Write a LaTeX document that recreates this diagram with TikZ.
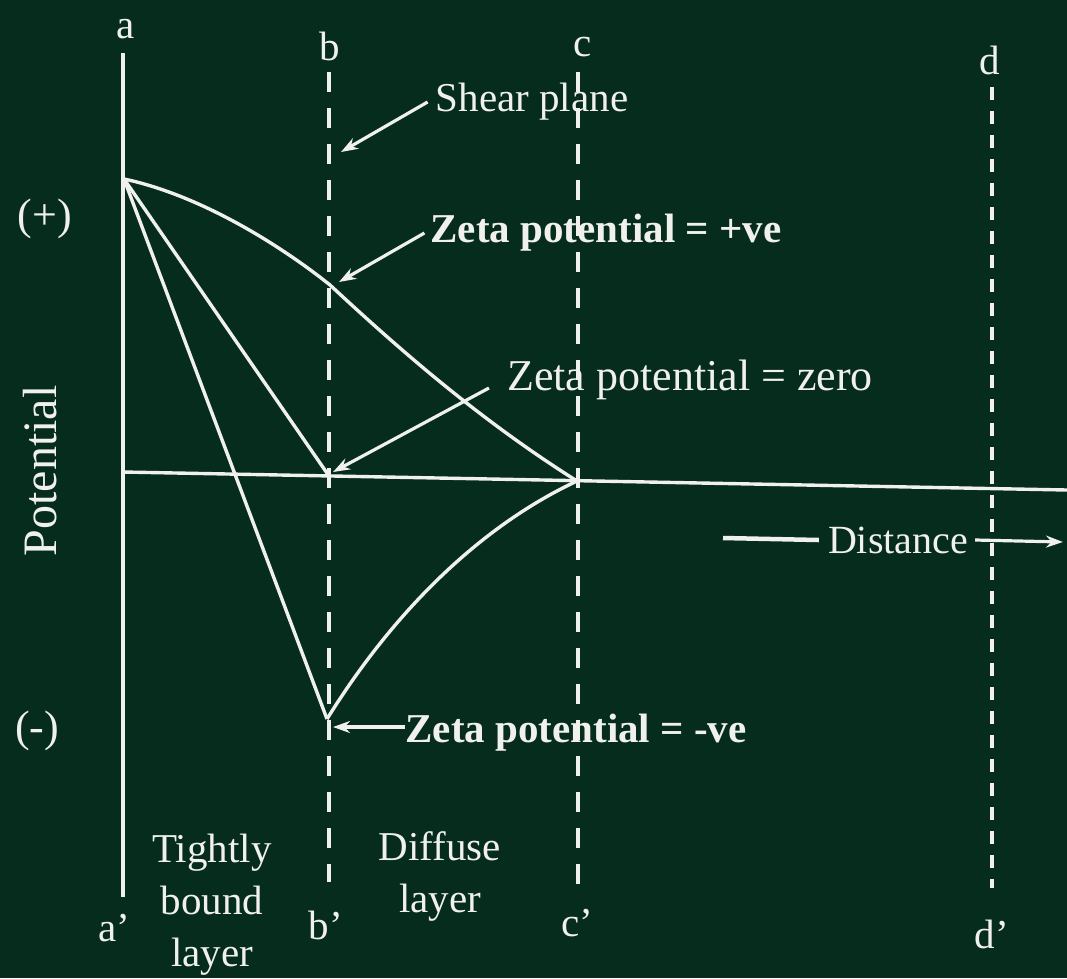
\documentclass[tikz,border=0pt]{standalone}
\usepackage{fontspec}
\setmainfont{Liberation Serif}
\usetikzlibrary{arrows.meta}
\definecolor{bg}{RGB}{6,44,30}
\definecolor{ink}{RGB}{240,240,236}
\begin{document}
\begin{tikzpicture}[x=1pt,y=-1pt,
  every node/.style={text=ink,inner sep=0pt},
  lbl/.style={font=\fontsize{41}{52}\selectfont},
  big/.style={font=\fontsize{44}{52}\selectfont},
  bld/.style={font=\fontsize{41}{52}\selectfont\bfseries},
  solidline/.style={draw=ink,line width=3.8pt},
  curve/.style={draw=ink,line width=3.4pt,line join=round},
  dashline/.style={draw=ink,line width=3.8pt,dash pattern=on 20pt off 16pt},
  dashfine/.style={draw=ink,line width=3.8pt,dash pattern=on 13pt off 11pt},
  pointer/.style={draw=ink,line width=3.2pt,-{Stealth[length=17pt,width=12pt]}},
]
\fill[bg] (0,0) rectangle (1067,978);
\useasboundingbox (0,0) rectangle (1067,978);

% vertical planes
\coordinate (atop) at (123,53);  \coordinate (abot) at (123,897);
\coordinate (btop) at (329,72);  \coordinate (bbot) at (329,882);
\coordinate (ctop) at (578,72);  \coordinate (cbot) at (578,897);
\coordinate (dtop) at (992,87);  \coordinate (dbot) at (992,888);
\draw[solidline] (atop) -- (abot);
\draw[dashline] (btop) -- (bbot);
\draw[dashline] (ctop) -- (cbot);
\draw[dashfine] (dtop) -- (dbot);

% distance axis
\coordinate (ax0) at (123,472); \coordinate (ax1) at (1067,490);
\draw[curve] (ax0) -- (ax1);

% potential curves
\coordinate (apex) at (124,179);
\coordinate (bplus) at (330,285);
\coordinate (bzero) at (329,476);
\coordinate (czero) at (577,481);
\coordinate (bneg) at (327,719);
\draw[curve] (apex) .. controls (200,195) and (280,245) .. (bplus)
              .. controls (400,350) and (480,420) .. (czero);
\draw[curve] (apex) -- (bzero);
\draw[curve] (apex) -- (bneg);
\draw[curve] (bneg) .. controls (397,606) and (485,524) .. (czero);

% plane labels
\node[lbl] (la) at (126,29) {a};
\node[lbl] (lb) at (330,46) {b};
\node[lbl] (lc) at (583,47) {c};
\node[lbl] (ld) at (990,60) {d};
\node[lbl] (la2) at (114,928) {a'};
\node[lbl] (lb2) at (326,925) {b'};
\node[lbl] (lc2) at (577,923) {c'};
\node[lbl] (ld2) at (992,934) {d'};

% axis labels
\node[font=\fontsize{48}{52}\selectfont, rotate=90] (pot) at (40,471) {Potential};
\node[big] (plus) at (45,219) {(+)};
\node[big] (minus) at (37,731) {(-)};

% annotations
\node[lbl] (shear) at (532,102) {Shear plane};
\coordinate (shearTip) at (341,152);
\draw[pointer] ([xshift=-8pt]shear.west) -- (shearTip);

\node[bld] (zplus) at (606,233) {Zeta potential = +ve};
\coordinate (zplusTip) at (339,282);
\draw[pointer] ([xshift=-6pt]zplus.west) -- (zplusTip);

\node[big] (zzero) at (690,380) {Zeta potential = zero};
\coordinate (zzeroTip) at (333,472);
\draw[pointer] ([shift={(-18,8)}]zzero.west) -- (zzeroTip);

\node[bld] (zminus) at (576,733) {Zeta potential = -ve};
\coordinate (zminusTip) at (333,727);
\draw[pointer] ([shift={(0,-6)}]zminus.west) -- (zminusTip);

\node[font=\fontsize{40}{52}\selectfont] (dist) at (898,540) {Distance};
\coordinate (distL) at (723,538);
\coordinate (distR) at (1063,542);
\draw[draw=ink,line width=4.5pt] (distL) -- ([xshift=-9pt]dist.west);
\draw[pointer] ([xshift=7pt]dist.east) -- (distR);

% layer names
\node[lbl,align=center] (tight) at (212,905) {Tightly\\bound\\layer};
\node[lbl,align=center] (diff) at (440,876) {Diffuse\\layer};
\end{tikzpicture}
\end{document}
